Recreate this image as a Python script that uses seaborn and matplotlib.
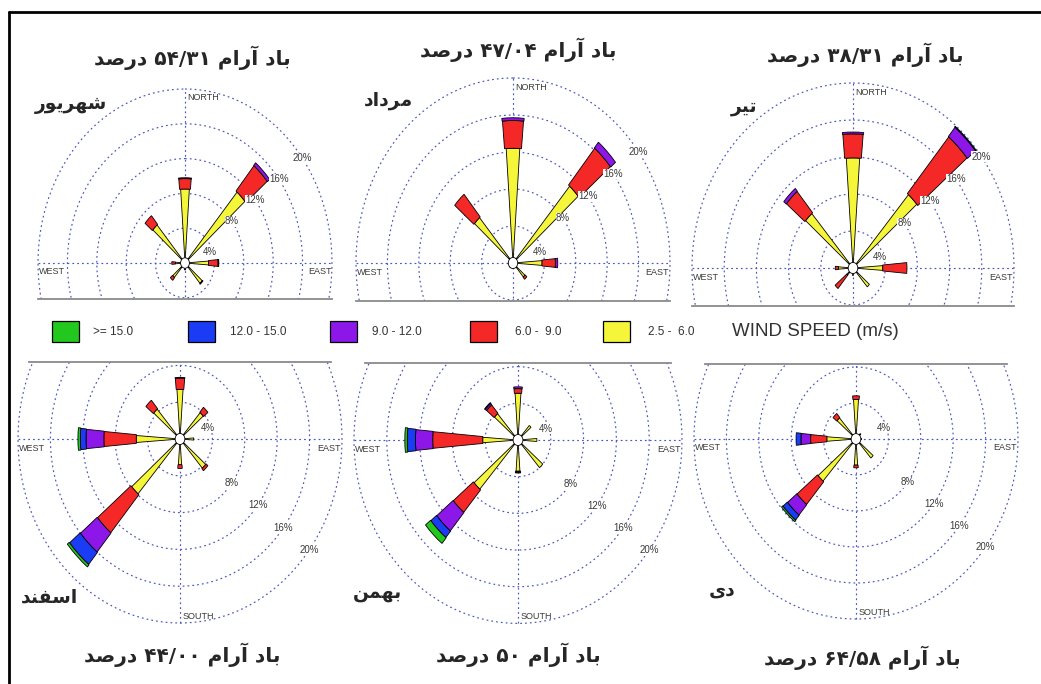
import re
import numpy as np
import matplotlib
matplotlib.use("Agg")
import matplotlib.pyplot as plt
from matplotlib.patches import Wedge, Circle, Rectangle
from matplotlib.lines import Line2D
import seaborn as sns

# ---------------------------------------------------------------------------
# Data: frequency (%) per direction (rows) and wind speed class (columns)
# ---------------------------------------------------------------------------
directions = ["N", "NE", "E", "SE", "S", "SW", "W", "NW"]
bearings = [0, 45, 90, 135, 180, 225, 270, 315]
speed_classes = ["2.5 - 6.0", "6.0 - 9.0", "9.0 - 12.0", "12.0 - 15.0", ">= 15.0"]
legend_labels = [">= 15.0", "12.0 - 15.0", "9.0 - 12.0", "6.0 -  9.0", "2.5 -  6.0"]

shahrivar = [[8.5, 1.2, 0.1, 0, 0], [10.8, 3.8, 0.4, 0, 0], [3.2, 1.3, 0.1, 0, 0],
             [3.1, 0.1, 0, 0, 0], [0.8, 0, 0, 0, 0], [2.2, 0.4, 0, 0, 0],
             [1.3, 0.5, 0, 0, 0], [5.8, 1.3, 0, 0, 0]]
mordad = [[12.4, 3.0, 0.3, 0, 0], [11.0, 5.2, 0.8, 0, 0], [3.7, 1.7, 0.3, 0, 0],
          [2.0, 0.3, 0, 0, 0], [0.6, 0, 0, 0, 0], [0.6, 0, 0, 0, 0],
          [0.6, 0, 0, 0, 0], [6.5, 3.2, 0, 0, 0]]
tir = [[11.9, 2.6, 0.2, 0, 0], [10.5, 8.0, 1.3, 0.1, 0], [3.7, 3.0, 0, 0, 0],
       [2.7, 0, 0, 0, 0], [0.8, 0, 0, 0, 0], [1.0, 1.9, 0, 0, 0],
       [1.8, 0.4, 0, 0, 0], [7.8, 3.0, 0.4, 0, 0]]
esfand = [[5.4, 1.2, 0.1, 0, 0], [3.8, 0.7, 0, 0, 0], [1.7, 0, 0, 0, 0],
          [4.2, 0.3, 0, 0, 0], [2.8, 0.4, 0, 0, 0], [7.9, 5.4, 2.7, 1.7, 0.3],
          [5.4, 4.0, 2.2, 0.7, 0.3], [4.3, 1.2, 0, 0, 0]]
bahman = [[5.1, 0.5, 0.2, 0, 0], [2.1, 0, 0, 0, 0], [2.3, 0, 0, 0, 0],
          [4.0, 0, 0, 0, 0], [3.4, 0.1, 0.1, 0, 0], [7.1, 3.2, 2.6, 0.9, 0.8],
          [4.3, 6.1, 2.1, 1.0, 0.3], [3.8, 1.2, 0.2, 0.1, 0]]
dey = [[4.4, 0.4, 0, 0, 0], [0.8, 0, 0, 0, 0], [0.7, 0, 0, 0, 0],
       [2.8, 0, 0, 0, 0], [2.9, 0.3, 0, 0, 0], [6.2, 3.3, 1.5, 0.7, 0.2],
       [3.6, 2.0, 1.2, 0.6, 0], [3.1, 0.6, 0, 0, 0]]

months = ["شهریور", "مرداد", "تیر", "اسفند", "بهمن", "دی"]
calm = ["۵۴/۳۱", "۴۷/۰۴", "۳۸/۳۱", "۴۴/۰۰", "۵۰", "۶۴/۵۸"]
roses = [shahrivar, mordad, tir, esfand, bahman, dey]
rings = [4, 8, 12, 16, 20]

# colours of speed classes (low -> high)
class_colors = sns.color_palette(["#f5f53a", "#f52828", "#8c17e8", "#1b3cf5", "#22c81e"])
half_width = [4.0, 5.0, 5.2, 5.4, 5.6]

# ---------------------------------------------------------------------------
# Minimal Persian shaping (matplotlib has no complex text layout)
# ---------------------------------------------------------------------------
FORMS = {
    "ا": ("\uFE8D", "\uFE8E"), "آ": ("\uFE81", "\uFE82"),
    "د": ("\uFEA9", "\uFEAA"), "ر": ("\uFEAD", "\uFEAE"),
    "و": ("\uFEED", "\uFEEE"),
    "ب": ("\uFE8F", "\uFE90", "\uFE91", "\uFE92"),
    "ت": ("\uFE95", "\uFE96", "\uFE97", "\uFE98"),
    "س": ("\uFEB1", "\uFEB2", "\uFEB3", "\uFEB4"),
    "ش": ("\uFEB5", "\uFEB6", "\uFEB7", "\uFEB8"),
    "ص": ("\uFEB9", "\uFEBA", "\uFEBB", "\uFEBC"),
    "ف": ("\uFED1", "\uFED2", "\uFED3", "\uFED4"),
    "م": ("\uFEE1", "\uFEE2", "\uFEE3", "\uFEE4"),
    "ن": ("\uFEE5", "\uFEE6", "\uFEE7", "\uFEE8"),
    "ه": ("\uFEE9", "\uFEEA", "\uFEEB", "\uFEEC"),
    "ی": ("\uFEEF", "\uFEF0", "\uFEF3", "\uFEF4"),
}
NUM = "0123456789/\u06F0\u06F1\u06F2\u06F3\u06F4\u06F5\u06F6\u06F7\u06F8\u06F9"


def fa(text):
    out = []
    for i, ch in enumerate(text):
        forms = FORMS.get(ch)
        if forms is None:
            out.append(ch)
            continue
        prev = text[i - 1] if i > 0 else ""
        nxt = text[i + 1] if i + 1 < len(text) else ""
        jp = prev in FORMS and len(FORMS[prev]) == 4
        jn = len(forms) == 4 and nxt in FORMS
        out.append(forms[3] if jp and jn else forms[1] if jp else forms[2] if jn else forms[0])
    runs = re.findall("[" + NUM + "]+|[^" + NUM + "]+", "".join(out))
    return "".join(r if r[0] in NUM else r[::-1] for r in reversed(runs))


# ---------------------------------------------------------------------------
sns.set_theme(style="white")
plt.rcParams["font.family"] = ["Liberation Sans", "DejaVu Sans"]

W, H = 1041, 684
fig = plt.figure(figsize=(W / 100, H / 100), dpi=100)
fig.patch.set_facecolor("white")

# panel layout in pixels: centre x, centre y, px per % (horiz, vert), row
layout = [(185, 263, 7.35, 8.7, "top"), (513, 263, 7.85, 9.25, "top"),
          (853, 268, 8.05, 9.25, "top"), (180, 439, 8.1, 9.2, "bottom"),
          (518, 440, 8.2, 9.17, "bottom"), (856, 439, 8.1, 9.0, "bottom")]
title_xy = [(192, 58), (518, 50), (865, 55), (182, 655), (518, 655), (862, 658)]
month_xy = [(71, 105), (388, 100), (744, 107), (49, 597), (377, 593), (722, 590)]

grid_c = "#4a55c0"
grid_ls = (0, (1.5, 2.6))
txt_c = "#3a3a3a"
XR = 22
tt = np.linspace(0, 2 * np.pi, 400)

for data, (cx, cy, hpx, vpx, row) in zip(roses, layout):
    ylo, yhi = (-4.1, 21.2) if row == "top" else (-21.6, 8.35)
    left = (cx - XR * hpx) / W
    bottom = 1 - (cy - ylo * vpx) / H
    ax = fig.add_axes([left, bottom, 2 * XR * hpx / W, (yhi - ylo) * vpx / H])
    ax.set_facecolor("none")
    ax.set_xlim(-XR, XR)
    ax.set_ylim(ylo, yhi)
    ax.set_xticks([])
    ax.set_yticks([])

    # grid
    for r in rings:
        ax.plot(r * np.sin(tt), r * np.cos(tt), color=grid_c, lw=0.85, ls=grid_ls, zorder=1)
    ax.plot([-20, 20], [0, 0], color=grid_c, lw=0.85, ls=grid_ls, zorder=1)
    ax.plot([0, 0], [-20, 20], color=grid_c, lw=0.85, ls=grid_ls, zorder=1)

    # petals
    for b, vals in zip(bearings, data):
        r0 = 0.0
        a = 90 - b
        for k, v in enumerate(vals):
            if v <= 0:
                continue
            r1 = r0 + v
            ax.add_patch(Wedge((0, 0), r1, a - half_width[k], a + half_width[k],
                               width=(r1 - r0) if r0 > 0 else None,
                               facecolor=class_colors[k], edgecolor="black",
                               lw=0.6, zorder=3))
            r0 = r1
    ax.add_patch(Circle((0, 0), 0.6, facecolor="white", edgecolor="black",
                        lw=0.6, zorder=4))

    # ring labels
    lab_b = 53 if row == "top" else 127
    for r in rings:
        bb, rr = (70, 3.6) if r == 4 else (lab_b, r)
        ax.text(rr * np.sin(np.radians(bb)), rr * np.cos(np.radians(bb)), f"{r}%",
                fontsize=7, color=txt_c, ha="center", va="center", zorder=5,
                bbox=dict(facecolor="white", edgecolor="none", pad=0.3))

    # compass labels
    ax.text(-19.9, -0.5, "WEST", fontsize=6.5, color=txt_c, ha="left", va="top")
    ax.text(19.9, -0.5, "EAST", fontsize=6.5, color=txt_c, ha="right", va="top")
    if row == "top":
        ax.text(0.3, 19.0, "NORTH", fontsize=6.5, color=txt_c, ha="left", va="center")
    else:
        ax.text(0.3, -19.3, "SOUTH", fontsize=6.5, color=txt_c, ha="left", va="center")

    for s in ax.spines.values():
        s.set_visible(False)
    edge = "bottom" if row == "top" else "top"
    yc = ylo if row == "top" else yhi
    half = np.sqrt(20.4 ** 2 - yc ** 2)
    ax.spines[edge].set_visible(True)
    ax.spines[edge].set_bounds(-half, half)
    ax.spines[edge].set_color("#8a8a8a")
    ax.spines[edge].set_linewidth(1.3)

# titles and month names
for name, c, (tx, ty), (mx, my) in zip(months, calm, title_xy, month_xy):
    fig.text(tx / W, 1 - ty / H, fa(f"باد آرام {c} درصد"), fontsize=14.5,
             fontweight="bold", family=["DejaVu Sans"], ha="center", va="center")
    fig.text(mx / W, 1 - my / H, fa(name), fontsize=13.5, fontweight="bold",
             family=["DejaVu Sans"], ha="center", va="center")

# legend
box_x = [52, 188, 330, 470, 603]
lab_x = [93, 230, 372, 515, 648]
for i, (bx, lx, lab) in enumerate(zip(box_x, lab_x, legend_labels)):
    col = class_colors[len(class_colors) - 1 - i]
    fig.patches.append(Rectangle((bx / W, 1 - 342 / H), 27 / W, 21 / H,
                                 transform=fig.transFigure, facecolor=col,
                                 edgecolor="black", lw=0.9))
    fig.text(lx / W, 1 - 332 / H, lab, fontsize=8.5, color="#333333",
             ha="left", va="center")
fig.text(732 / W, 1 - 331 / H, "WIND SPEED (m/s)", fontsize=13.5, color="#333333",
         ha="left", va="center")

# outer frame (left and top)
fig.add_artist(Line2D([9 / W, 9 / W], [0, 1 - 12 / H], transform=fig.transFigure,
                      color="black", lw=2))
fig.add_artist(Line2D([9 / W, 1], [1 - 12 / H, 1 - 12 / H], transform=fig.transFigure,
                      color="black", lw=2))

fig.savefig("out.png", dpi=100)
